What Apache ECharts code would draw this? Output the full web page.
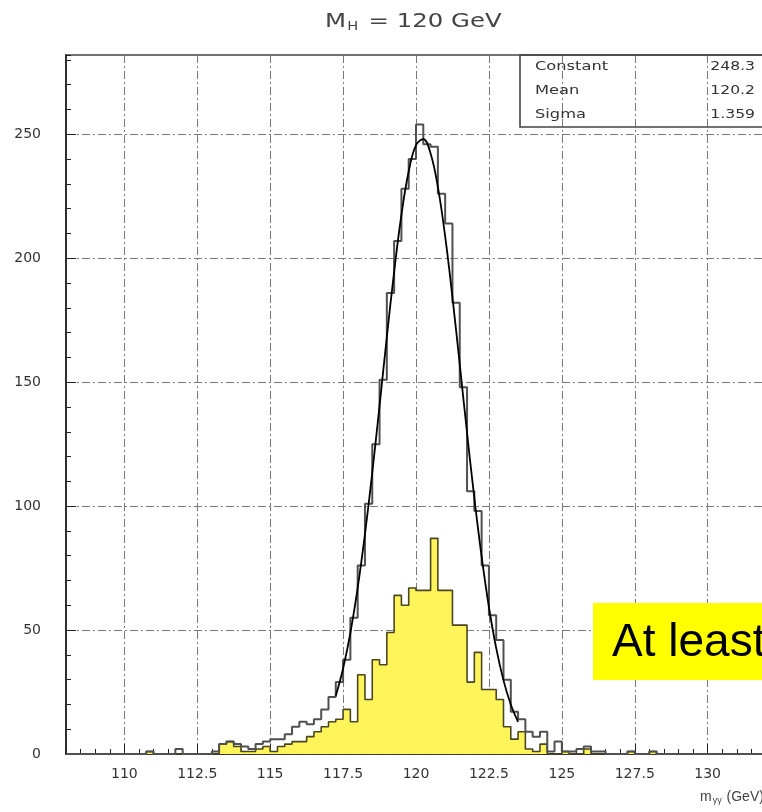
<!DOCTYPE html>
<html>
<head>
<meta charset="utf-8">
<script src="https://cdn.jsdelivr.net/npm/echarts@6/dist/echarts.min.js"></script>
<style>
html, body { margin: 0; padding: 0; background: #fff; overflow: hidden; }
#chart { width: 800px; height: 812px; }
</style>
</head>
<body>
<div id="chart"></div>
<script>
// histogram bins: 108 .. 132 GeV, 0.25 GeV wide
const binLow = 108;
const binWidth = 0.25;

// all events (open histogram)
const allEvents = [
  0, 0, 0, 0, 0, 0, 0, 0, 0, 0, 0, 1,          // 108.00 - 110.75
  0, 0, 0, 2, 0, 0, 0, 0,                      // 111.00 - 112.75
  1, 4, 5, 4, 3, 2, 4, 5,                      // 113.00 - 114.75
  6, 6, 8, 11, 13, 12, 14, 18,                 // 115.00 - 116.75
  23, 29, 38, 55, 76, 101, 125, 151,           // 117.00 - 118.75
  186, 207, 228, 240, 254, 246, 245, 226,      // 119.00 - 120.75
  214, 182, 148, 106, 98, 76, 56, 46,          // 121.00 - 122.75
  30, 17, 14, 9, 7, 9, 1, 5,                   // 123.00 - 124.75
  1, 1, 2, 3, 1, 1, 0, 0,                      // 125.00 - 126.75
  0, 1, 0, 0, 1, 0, 0, 0,                      // 127.00 - 128.75
  0, 0, 0, 0, 0, 0, 0, 0, 0, 0, 0, 0           // 129.00 - 131.75
];

// selected events (yellow histogram)
const selected = [
  0, 0, 0, 0, 0, 0, 0, 0, 0, 0, 0, 1,
  0, 0, 0, 0, 0, 0, 0, 0,
  0, 4, 5, 3, 1, 1, 2, 3,
  1, 3, 4, 5, 5, 7, 9, 11,
  13, 14, 18, 13, 32, 22, 38, 36,
  49, 64, 60, 67, 66, 66, 87, 66,
  66, 52, 52, 29, 41, 26, 26, 22,
  11, 6, 9, 2, 1, 4, 0, 0,
  1, 0, 0, 2, 0, 0, 0, 0,
  0, 1, 0, 0, 1, 0, 0, 0,
  0, 0, 0, 0, 0, 0, 0, 0, 0, 0, 0, 0
];

// gaussian fit curve
const fitX = [117.25, 117.5, 117.75, 118, 118.25, 118.5, 118.75, 119, 119.25, 119.5, 119.75,
  120, 120.25, 120.5, 120.75, 121, 121.25, 121.5, 121.75, 122, 122.25, 122.5, 122.75, 123, 123.25, 123.5];
const fitY = [23.5, 34.5, 48.9, 67.0, 88.7, 113.5, 140.5, 168.2, 194.5, 217.5, 235.1,
  245.6, 248.1, 242.3, 228.8, 208.8, 184.2, 157.2, 129.6, 103.3, 79.6, 59.3, 42.7, 29.7, 20.0, 13.0];

const xMajor = [110, 112.5, 115, 117.5, 120, 122.5, 125, 127.5, 130];
const yMajor = [0, 50, 100, 150, 200, 250];
const statNames = ['Constant', 'Mean', 'Sigma'];
const statValues = ['248.3', '120.2', '1.359'];

const FONT = '"DejaVu Sans", "Liberation Sans", sans-serif';
const gridDash = { color: '#7a7a7a', width: 1, type: [8, 3, 2, 3] };

function stepPoints(counts) {
  const pts = counts.map((c, i) => [binLow + i * binWidth, c]);
  pts.push([binLow + counts.length * binWidth, 0]);
  return pts;
}

const chart = echarts.init(document.getElementById('chart'));

const statGraphics = [];
statNames.forEach((name, i) => {
  statGraphics.push({
    type: 'text', z: 100, x: 535, y: 67 + i * 24, scaleX: 1.25,
    style: { text: name, font: '13px ' + FONT, fill: '#333', verticalAlign: 'middle' }
  });
  statGraphics.push({
    type: 'text', z: 100, x: 755, y: 67 + i * 24, scaleX: 1.2,
    style: { text: statValues[i], font: '13px ' + FONT, fill: '#333', align: 'right', verticalAlign: 'middle' }
  });
});

chart.setOption({
  animation: false,
  grid: { left: 66, right: 34, top: 55, bottom: 58, show: true, borderColor: '#444', borderWidth: 1.6 },
  xAxis: [
    {
      type: 'value', min: 108, max: 132, interval: 0.5, position: 'bottom',
      axisLine: { show: true, lineStyle: { color: '#222', width: 1.6 } },
      axisTick: { inside: true, length: 5, lineStyle: { color: '#222' } },
      axisLabel: { show: false },
      splitLine: { show: false }
    },
    {
      type: 'value', min: 108, max: 132, position: 'bottom',
      axisLine: { show: false },
      axisTick: { inside: true, length: 10, customValues: xMajor, lineStyle: { color: '#222' } },
      axisLabel: { customValues: xMajor, margin: 13, color: '#333', fontSize: 14, fontFamily: FONT },
      splitLine: { show: true, lineStyle: gridDash }
    }
  ],
  yAxis: [
    {
      type: 'value', min: 0, max: 282, interval: 10, position: 'left',
      axisLine: { show: true, lineStyle: { color: '#222', width: 1.6 } },
      axisTick: { inside: true, length: 5, lineStyle: { color: '#222' } },
      axisLabel: { show: false },
      splitLine: { show: false }
    },
    {
      type: 'value', min: 0, max: 282, position: 'left',
      axisLine: { show: false },
      axisTick: { inside: true, length: 10, customValues: yMajor, lineStyle: { color: '#222' } },
      axisLabel: { customValues: yMajor, margin: 25, color: '#333', fontSize: 14, fontFamily: FONT },
      splitLine: { show: true, lineStyle: gridDash }
    }
  ],
  series: [
    {
      name: 'selected', type: 'line', step: 'end', symbol: 'none', z: 2,
      data: stepPoints(selected),
      lineStyle: { color: '#4a4622', width: 1.6 },
      areaStyle: { color: '#fff45a', opacity: 1 }
    },
    {
      name: 'all', type: 'line', step: 'end', symbol: 'none', z: 3,
      data: stepPoints(allEvents),
      lineStyle: { color: '#505050', width: 2 }
    },
    {
      name: 'fit', type: 'line', smooth: 0.4, symbol: 'none', z: 4,
      data: fitX.map((x, i) => [x, fitY[i]]),
      lineStyle: { color: '#000', width: 1.8 }
    }
  ],
  graphic: [
    {
      type: 'text', z: 100, x: 325, y: 22, scaleX: 1.22,
      style: {
        text: '{m|M}{s|H}{m| = 120 GeV}',
        verticalAlign: 'middle',
        rich: {
          m: { fontSize: 20, fontFamily: FONT, fill: '#444', color: '#444' },
          s: { fontSize: 12, fontFamily: FONT, fill: '#444', color: '#444', padding: [9, 2, 0, 1] }
        }
      }
    },
    {
      type: 'rect', z: 99,
      shape: { x: 520, y: 55, width: 300, height: 72 },
      style: { fill: 'none', stroke: '#444', lineWidth: 1.6 }
    },
    ...statGraphics,
    {
      type: 'rect', z: 101,
      shape: { x: 593, y: 603, width: 220, height: 77 },
      style: { fill: '#ffff00' }
    },
    {
      type: 'text', z: 102, x: 612, y: 643,
      style: { text: 'At least', font: '46px "Liberation Sans", Arial, sans-serif', fill: '#000', verticalAlign: 'middle' }
    },
    {
      type: 'text', z: 100, x: 700, y: 797,
      style: {
        text: '{m|m}{s|\u03b3\u03b3}{m| (GeV)}',
        verticalAlign: 'middle',
        rich: {
          m: { fontSize: 14, fontFamily: '"Liberation Sans", Arial, sans-serif', fill: '#444', color: '#444' },
          s: { fontSize: 9, fontFamily: '"Liberation Sans", Arial, sans-serif', fill: '#444', color: '#444', padding: [7, 1, 0, 1] }
        }
      }
    }
  ]
});
</script>
</body>
</html>
